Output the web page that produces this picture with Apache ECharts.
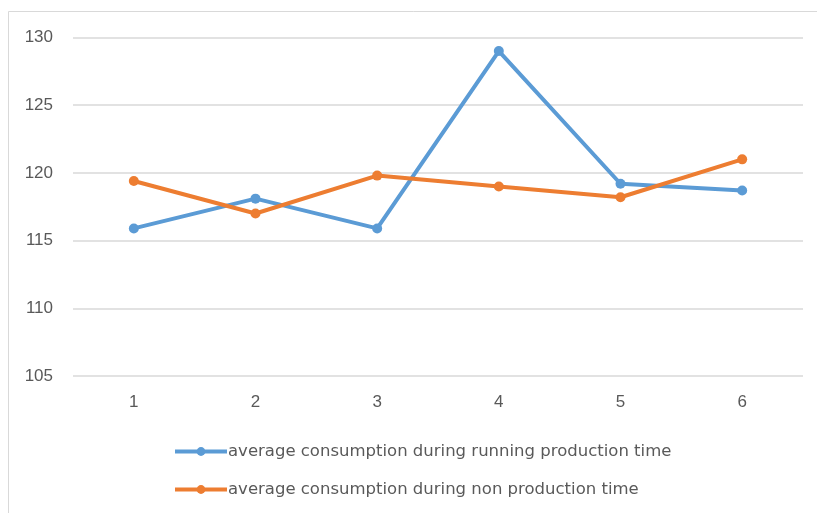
<!DOCTYPE html>
<html>
<head>
<meta charset="utf-8">
<script src="https://cdn.jsdelivr.net/npm/echarts@6/dist/echarts.min.js"></script>
<style>
html,body{margin:0;padding:0;background:#fff;}
#chart{width:817px;height:513px;}
</style>
</head>
<body>
<div id="chart"></div>
<script>
const categories = ['1', '2', '3', '4', '5', '6'];
const seriesNames = [
  'average consumption during running production time',
  'average consumption during non production time'
];
const runningValues = [115.9, 118.1, 115.9, 129.0, 119.2, 118.7];
const nonProductionValues = [119.4, 117.0, 119.8, 119.0, 118.2, 121.0];
const yTicks = [105, 110, 115, 120, 125, 130];

const chart = echarts.init(document.getElementById('chart'), null, {renderer: 'canvas'});
const labelFont = 'Liberation Sans';
chart.setOption({
  animation: false,
  backgroundColor: '#ffffff',
  graphic: [{
    type: 'rect',
    shape: {x: 8.5, y: 11.5, width: 820, height: 520},
    style: {fill: 'none', stroke: '#d9d9d9', lineWidth: 1},
    silent: true
  }],
  grid: {left: 73, right: 14, top: 37.5, bottom: 137, containLabel: false},
  legend: {
    orient: 'vertical',
    left: 168,
    top: 438,
    itemGap: 21,
    itemWidth: 52,
    itemHeight: 11,
    lineStyle: {width: 4},
    textStyle: {fontFamily: 'DejaVu Sans', fontSize: 16.5, color: '#595959', padding: [0, 0, 0, -4]},
    data: seriesNames
  },
  xAxis: {
    type: 'category',
    data: categories,
    boundaryGap: true,
    axisLine: {show: false},
    axisTick: {show: false},
    axisLabel: {fontFamily: labelFont, fontSize: 17, color: '#595959', margin: 18}
  },
  yAxis: {
    type: 'value',
    min: yTicks[0],
    max: yTicks[yTicks.length - 1],
    interval: 5,
    axisLine: {show: false},
    axisTick: {show: false},
    axisLabel: {fontFamily: labelFont, fontSize: 17, color: '#595959', margin: 20},
    splitLine: {lineStyle: {color: '#d9d9d9', width: 1.5}}
  },
  series: [
    {
      name: seriesNames[0],
      type: 'line',
      data: runningValues,
      symbol: 'circle',
      symbolSize: 10,
      lineStyle: {color: '#5b9bd5', width: 4},
      itemStyle: {color: '#5b9bd5'}
    },
    {
      name: seriesNames[1],
      type: 'line',
      data: nonProductionValues,
      symbol: 'circle',
      symbolSize: 10,
      lineStyle: {color: '#ed7d31', width: 4},
      itemStyle: {color: '#ed7d31'}
    }
  ]
});
</script>
</body>
</html>
